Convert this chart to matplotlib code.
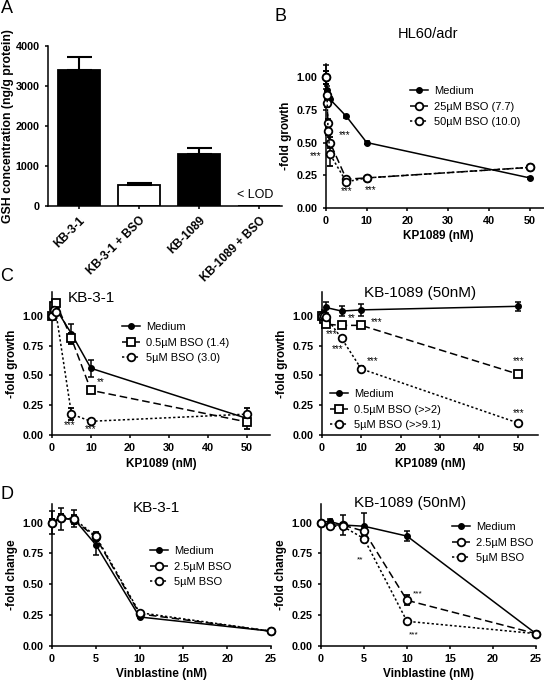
import matplotlib
matplotlib.use("Agg")
import matplotlib.pyplot as plt
from matplotlib.lines import Line2D

plt.rcParams['font.family'] = ['Liberation Sans', 'DejaVu Sans']
plt.rcParams['axes.linewidth'] = 1.1
plt.rcParams['xtick.major.width'] = 1.1
plt.rcParams['ytick.major.width'] = 1.1
plt.rcParams['xtick.major.size'] = 2.5
plt.rcParams['ytick.major.size'] = 2.5

W, H = 544, 682

# ---- A: GSH content
a_labels = ["KB-3-1", "KB-3-1 + BSO", "KB-1089", "KB-1089 + BSO"]
a_values = [3400, 520, 1310, 0]
a_err = [330, 50, 130, 0]
a_colors = ["black", "white", "black", "white"]

# ---- B: HL60/adr
b_x = [0, 0.25, 0.5, 1, 5, 10, 50]
b_medium = [1.00, 0.90, 0.86, 0.83, 0.70, 0.50, 0.23]
b_medium_err = [0.09, 0.03, 0.02, 0.02, 0.01, 0.01, 0.01]
b_bso25 = [1.00, 0.80, 0.65, 0.50, 0.22, 0.23, 0.31]
b_bso25_err = [0.05, 0.03, 0.03, 0.04, 0.01, 0.01, 0.01]
b_bso50 = [1.00, 0.86, 0.59, 0.41, 0.20, 0.23, 0.31]
b_bso50_err = [0.05, 0.03, 0.03, 0.09, 0.01, 0.01, 0.01]
b_stars = [(4.5, 0.56), (-2.5, 0.40), (5, 0.13), (11, 0.14)]

# ---- C: KB-3-1 and KB-1089 with KP1089
c_x = [0, 0.5, 1, 5, 10, 50]
c1_medium = [1.00, 1.08, 1.06, 0.85, 0.56, 0.14]
c1_medium_err = [0.02, 0.03, 0.03, 0.08, 0.07, 0.04]
c1_bso05 = [1.00, 1.08, 1.11, 0.81, 0.375, 0.11]
c1_bso05_err = [0.02, 0.02, 0.02, 0.05, 0.02, 0.06]
c1_bso5 = [1.00, 1.05, 1.03, 0.175, 0.115, 0.175]
c1_bso5_err = [0.02, 0.02, 0.02, 0.05, 0.02, 0.05]
c1_stars = [(12.5, 0.44, "**"), (4.5, 0.08, "***"), (10, 0.05, "***")]

c2_medium = [1.00, 1.02, 1.07, 1.04, 1.05, 1.08]
c2_medium_err = [0.03, 0.03, 0.05, 0.04, 0.05, 0.04]
c2_bso05 = [1.00, 0.97, 0.93, 0.92, 0.92, 0.51]
c2_bso05_err = [0.02, 0.02, 0.02, 0.02, 0.02, 0.02]
c2_bso5 = [1.00, 1.00, 0.99, 0.81, 0.555, 0.10]
c2_bso5_err = [0.02, 0.02, 0.02, 0.02, 0.02, 0.02]
c2_stars = [(7.5, 0.98, "**"), (14, 0.95, "***"), (2.5, 0.85, "***"),
            (4, 0.72, "***"), (13, 0.62, "***"), (50, 0.62, "***"),
            (50, 0.18, "***")]

# ---- D: vinblastine
d_x = [0, 1, 2.5, 5, 10, 25]
d1_medium = [1.00, 1.03, 1.03, 0.82, 0.235, 0.12]
d1_medium_err = [0.09, 0.09, 0.07, 0.08, 0.01, 0.01]
d1_bso25 = [1.00, 1.04, 1.02, 0.88, 0.26, 0.12]
d1_bso25_err = [0.03, 0.03, 0.03, 0.03, 0.01, 0.01]
d1_bso5 = [1.00, 1.04, 1.03, 0.89, 0.27, 0.12]
d1_bso5_err = [0.03, 0.03, 0.03, 0.03, 0.01, 0.01]

d2_medium = [1.00, 1.01, 0.98, 0.97, 0.89, 0.10]
d2_medium_err = [0.01, 0.02, 0.08, 0.11, 0.04, 0.01]
d2_bso25 = [1.00, 0.98, 0.98, 0.93, 0.37, 0.10]
d2_bso25_err = [0.01, 0.02, 0.02, 0.02, 0.04, 0.01]
d2_bso5 = [1.00, 0.97, 0.97, 0.87, 0.20, 0.10]
d2_bso5_err = [0.01, 0.02, 0.02, 0.02, 0.01, 0.01]
d2_stars = [(4.5, 0.70, "**"), (11.3, 0.42, "***"), (10.8, 0.09, "***")]

SOLID = "-"
DASHED = (0, (5, 2.5))
DOTTED = (0, (1.5, 1.5))
LABEL_FS = 8.5


def box(l, t, r, b):
    return [l / W, 1 - b / H, (r - l) / W, (b - t) / H]


def style(ax):
    for s in ["top", "right"]:
        ax.spines[s].set_visible(False)
    ax.tick_params(labelsize=7.8)
    for lab in ax.get_xticklabels() + ax.get_yticklabels():
        lab.set_fontweight("bold")


def series(ax, x, y, err, ls, marker, filled, label):
    if filled:
        ax.errorbar(x, y, yerr=err, color="black", lw=1.1, ls=ls, marker=marker,
                    ms=4, mfc="black", mec="black", capsize=2.5, elinewidth=1.1,
                    capthick=1.1, clip_on=False, label=label, zorder=3)
    else:
        ax.errorbar(x, y, yerr=err, color="black", lw=1.1, ls=ls, marker=marker,
                    ms=5.5, mfc="white", mec="black", mew=1.3, capsize=2.5,
                    elinewidth=1.1, capthick=1.1, clip_on=False, label=label,
                    zorder=3)


def legend(ax, handles, labels, px, py):
    ax.legend(handles, labels, loc="upper left",
              bbox_to_anchor=(px / W, 1 - py / H),
              bbox_transform=fig.transFigure, frameon=False, fontsize=8,
              handlelength=1.6, handletextpad=0.6, labelspacing=0.5,
              borderpad=0, borderaxespad=0)


def handles(markers):
    out = []
    for ls, m, filled in markers:
        if filled:
            out.append(Line2D([], [], color="black", lw=1.1, ls=ls, marker=m,
                              ms=4, mfc="black"))
        else:
            out.append(Line2D([], [], color="black", lw=1.1, ls=ls, marker=m,
                              ms=5.5, mfc="white", mew=1.3))
    return out


def fold_axes(ax, xmax, ymax, xticks, xlabel, ylabel):
    ax.set_xlim(0, xmax)
    ax.set_ylim(0, ymax)
    ax.set_xticks(xticks)
    ax.set_yticks([0, 0.25, 0.5, 0.75, 1.0])
    ax.set_yticklabels(["0.00", "0.25", "0.50", "0.75", "1.00"])
    ax.set_xlabel(xlabel, fontsize=LABEL_FS, fontweight="bold", labelpad=3)
    ax.set_ylabel(ylabel, fontsize=LABEL_FS, fontweight="bold", labelpad=3)


fig = plt.figure(figsize=(W / 100, H / 100), dpi=100)

# ---------------- A
axA = fig.add_axes(box(48, 46, 282, 206))
xs = range(len(a_labels))
axA.bar(xs, a_values, width=0.7, color=a_colors, edgecolor="black", lw=1.3)
axA.errorbar(xs[:3], a_values[:3], yerr=[[0, 0, 0], a_err[:3]], fmt="none",
             ecolor="black", elinewidth=1.5, capsize=9, capthick=1.5)
axA.set_xlim(-0.52, 3.38)
axA.set_ylim(0, 4000)
axA.set_yticks([0, 1000, 2000, 3000, 4000])
axA.set_xticks(list(xs))
axA.set_xticklabels(a_labels, rotation=45, ha="right", rotation_mode="anchor")
axA.set_ylabel("GSH concentration (ng/g protein)", fontsize=8.8, fontweight="bold")
axA.yaxis.set_label_coords(-0.145, 0.5)
axA.text(3 - 0.37, 120, "< LOD", fontsize=9, ha="left", va="bottom")
style(axA)
for lab in axA.get_xticklabels():
    lab.set_fontsize(8.5)

# ---------------- B
axB = fig.add_axes(box(326, 64, 550, 208))
series(axB, b_x, b_medium, b_medium_err, SOLID, "o", True, "Medium")
series(axB, b_x, b_bso25, b_bso25_err, DASHED, "o", False, "25\u00b5M BSO (7.7)")
series(axB, b_x, b_bso50, b_bso50_err, DOTTED, "o", False, "50\u00b5M BSO (10.0)")
for sx, sy in b_stars:
    axB.text(sx, sy, "***", fontsize=7, ha="center", va="center")
fold_axes(axB, 55, 1.1, [0, 10, 20, 30, 40, 50], "KP1089 (nM)", "-fold growth")
axB.text(25, 1.33, "HL60/adr", fontsize=10.5, ha="center", va="center")
legend(axB, handles([(SOLID, "o", True), (DASHED, "o", False), (DOTTED, "o", False)]),
       ["Medium", "25\u00b5M BSO (7.7)", "50\u00b5M BSO (10.0)"], 410, 86)
style(axB)

# ---------------- C left
axC1 = fig.add_axes(box(52, 292, 270, 435))
series(axC1, c_x, c1_medium, c1_medium_err, SOLID, "o", True, "Medium")
series(axC1, c_x, c1_bso05, c1_bso05_err, DASHED, "s", False, "0.5\u00b5M BSO (1.4)")
series(axC1, c_x, c1_bso5, c1_bso5_err, DOTTED, "o", False, "5\u00b5M BSO (3.0)")
for sx, sy, s in c1_stars:
    axC1.text(sx, sy, s, fontsize=7, ha="center", va="center")
fold_axes(axC1, 56, 1.2, [0, 10, 20, 30, 40, 50], "KP1089 (nM)", "-fold growth")
axC1.text(4, 1.15, "KB-3-1", fontsize=11, ha="left", va="center")
legend(axC1, handles([(SOLID, "o", True), (DASHED, "s", False), (DOTTED, "o", False)]),
       ["Medium", "0.5\u00b5M BSO (1.4)", "5\u00b5M BSO (3.0)"], 122, 322)
style(axC1)

# ---------------- C right
axC2 = fig.add_axes(box(322, 292, 538, 435))
series(axC2, c_x, c2_medium, c2_medium_err, SOLID, "o", True, "Medium")
series(axC2, c_x, c2_bso05, c2_bso05_err, DASHED, "s", False, "0.5\u00b5M BSO (>>2)")
series(axC2, c_x, c2_bso5, c2_bso5_err, DOTTED, "o", False, "5\u00b5M BSO (>>9.1)")
for sx, sy, s in c2_stars:
    axC2.text(sx, sy, s, fontsize=7, ha="center", va="center")
fold_axes(axC2, 55, 1.2, [0, 10, 20, 30, 40, 50], "KP1089 (nM)", "-fold growth")
axC2.text(25, 1.19, "KB-1089 (50nM)", fontsize=11, ha="center", va="center")
legend(axC2, handles([(SOLID, "o", True), (DASHED, "s", False), (DOTTED, "o", False)]),
       ["Medium", "0.5\u00b5M BSO (>>2)", "5\u00b5M BSO (>>9.1)"], 330, 389)
style(axC2)

# ---------------- D left
axD1 = fig.add_axes(box(52, 504, 271, 646))
series(axD1, d_x, d1_medium, d1_medium_err, SOLID, "o", True, "Medium")
series(axD1, d_x, d1_bso25, d1_bso25_err, DASHED, "o", False, "2.5\u00b5M BSO")
series(axD1, d_x, d1_bso5, d1_bso5_err, DOTTED, "o", False, "5\u00b5M BSO")
fold_axes(axD1, 25, 1.15, [0, 5, 10, 15, 20, 25], "Vinblastine (nM)", "-fold change")
axD1.text(11.9, 1.12, "KB-3-1", fontsize=11, ha="center", va="center")
legend(axD1, handles([(SOLID, "o", True), (DASHED, "o", False), (DOTTED, "o", False)]),
       ["Medium", "2.5\u00b5M BSO", "5\u00b5M BSO"], 150, 546)
style(axD1)

# ---------------- D right
axD2 = fig.add_axes(box(321, 504, 536, 646))
series(axD2, d_x, d2_medium, d2_medium_err, SOLID, "o", True, "Medium")
series(axD2, d_x, d2_bso25, d2_bso25_err, DASHED, "o", False, "2.5\u00b5M BSO")
series(axD2, d_x, d2_bso5, d2_bso5_err, DOTTED, "o", False, "5\u00b5M BSO")
for sx, sy, s in d2_stars:
    axD2.text(sx, sy, s, fontsize=6, ha="center", va="center")
fold_axes(axD2, 25, 1.15, [0, 5, 10, 15, 20, 25], "Vinblastine (nM)", "-fold change")
axD2.text(10.3, 1.16, "KB-1089 (50nM)", fontsize=11, ha="center", va="center")
legend(axD2, handles([(SOLID, "o", True), (DASHED, "o", False), (DOTTED, "o", False)]),
       ["Medium", "2.5\u00b5M BSO", "5\u00b5M BSO"], 452, 522)
style(axD2)

# panel letters
for letter, px, py in [("A", 1, 0), ("B", 275, 8), ("C", 0, 268), ("D", 0, 486)]:
    fig.text(px / W, 1 - py / H, letter, fontsize=13, ha="left", va="top")

fig.savefig("out.png", dpi=100)
